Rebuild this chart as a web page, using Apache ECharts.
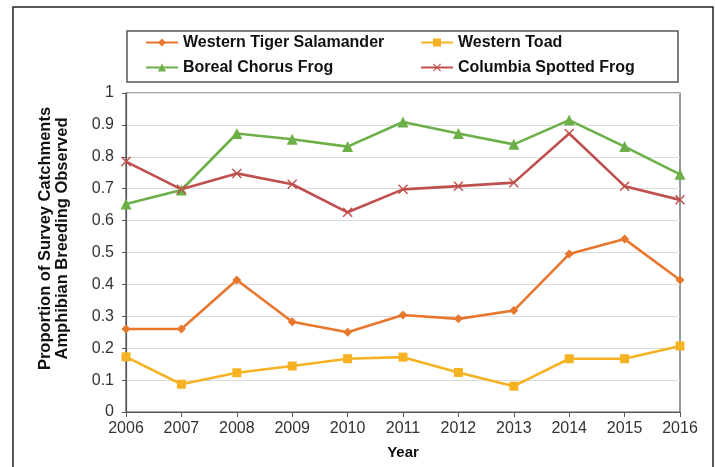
<!DOCTYPE html>
<html><head><meta charset="utf-8">
<script src="https://cdn.jsdelivr.net/npm/echarts@6/dist/echarts.min.js"></script>
<style>html,body{margin:0;padding:0;background:#fff}#c{width:715px;height:467px}</style>
</head><body><div id="c"></div>
<script>
const years = ['2006','2007','2008','2009','2010','2011','2012','2013','2014','2015','2016'];
const salamander = [0.26,0.26,0.414,0.283,0.25,0.304,0.292,0.318,0.495,0.542,0.414];
const toad = [0.173,0.087,0.123,0.144,0.167,0.172,0.124,0.081,0.167,0.167,0.207];
const chorus = [0.652,0.696,0.873,0.855,0.832,0.909,0.873,0.839,0.915,0.832,0.745];
const spotted = [0.785,0.698,0.748,0.714,0.626,0.698,0.708,0.719,0.873,0.708,0.665];
const names = ['Western Tiger Salamander','Western Toad','Boreal Chorus Frog','Columbia Spotted Frog'];

const crossPath = 'path://M0,1L1,0L5,4L9,0L10,1L6,5L10,9L9,10L5,6L1,10L0,9L4,5Z';
const chart = echarts.init(document.getElementById('c'));
const legendText = {fontFamily:'Liberation Sans', fontWeight:'bold', fontSize:16, color:'#111', lineHeight:17};
function mk(name, data, color, symbol, size){
  return {name, type:'line', data, symbol, symbolSize:size, lineStyle:{color, width:2.6},
    itemStyle:{color}, animation:false};
}
chart.setOption({
  backgroundColor:'#fff',
  textStyle:{fontFamily:'Liberation Sans'},
  graphic:[
    {type:'rect', shape:{x:13,y:7,width:700,height:470}, style:{fill:'none', stroke:'#222', lineWidth:1.5}, silent:true},
    {type:'rect', shape:{x:127,y:31,width:551,height:51}, style:{fill:'none', stroke:'#555', lineWidth:1.5}, silent:true}
  ],
  legend:[
    {data:[names[0],names[2]], orient:'vertical', left:145, top:34, padding:0, itemWidth:32, itemHeight:10, itemGap:8, textStyle:legendText},
    {data:[names[1],names[3]], orient:'vertical', left:420, top:34, padding:0, itemWidth:32, itemHeight:10, itemGap:8, textStyle:legendText}
  ],
  grid:{left:126, right:35, top:93, bottom:55, show:true, borderColor:'#555', borderWidth:1.2, backgroundColor:'transparent'},
  xAxis:{type:'category', data:years, boundaryGap:false,
    name:'Year', nameLocation:'middle', nameGap:33,
    nameTextStyle:{fontFamily:'Liberation Sans', fontWeight:'bold', fontSize:15, color:'#111'},
    axisLine:{lineStyle:{color:'#555', width:1.2}},
    axisTick:{show:true, length:5, lineStyle:{color:'#555'}, alignWithLabel:true},
    axisLabel:{fontSize:16, color:'#333', margin:9}},
  yAxis:{type:'value', min:0, max:1, interval:0.1,
    name:'Proportion of Survey Catchments\nAmphibian Breeding Observed', nameLocation:'middle', nameGap:55,
    nameTextStyle:{fontFamily:'Liberation Sans', fontWeight:'bold', fontSize:16.5, color:'#111', lineHeight:17, padding:[0,0,0,28]},
    axisLine:{show:true, lineStyle:{color:'#555', width:1.2}},
    axisTick:{show:true, length:4, lineStyle:{color:'#555'}},
    axisLabel:{fontSize:16, color:'#333', margin:12, formatter:v=>String(Math.round(v*10)/10)},
    splitLine:{lineStyle:{color:'#dcdcdc', width:1.2}}},
  series:[
    mk(names[0], salamander, '#E8772E', 'diamond', 9),
    mk(names[1], toad, '#F5B223', 'rect', 9),
    mk(names[2], chorus, '#6DB049', 'triangle', 11),
    mk(names[3], spotted, '#C0504D', crossPath, 10)
  ]
});
</script></body></html>
